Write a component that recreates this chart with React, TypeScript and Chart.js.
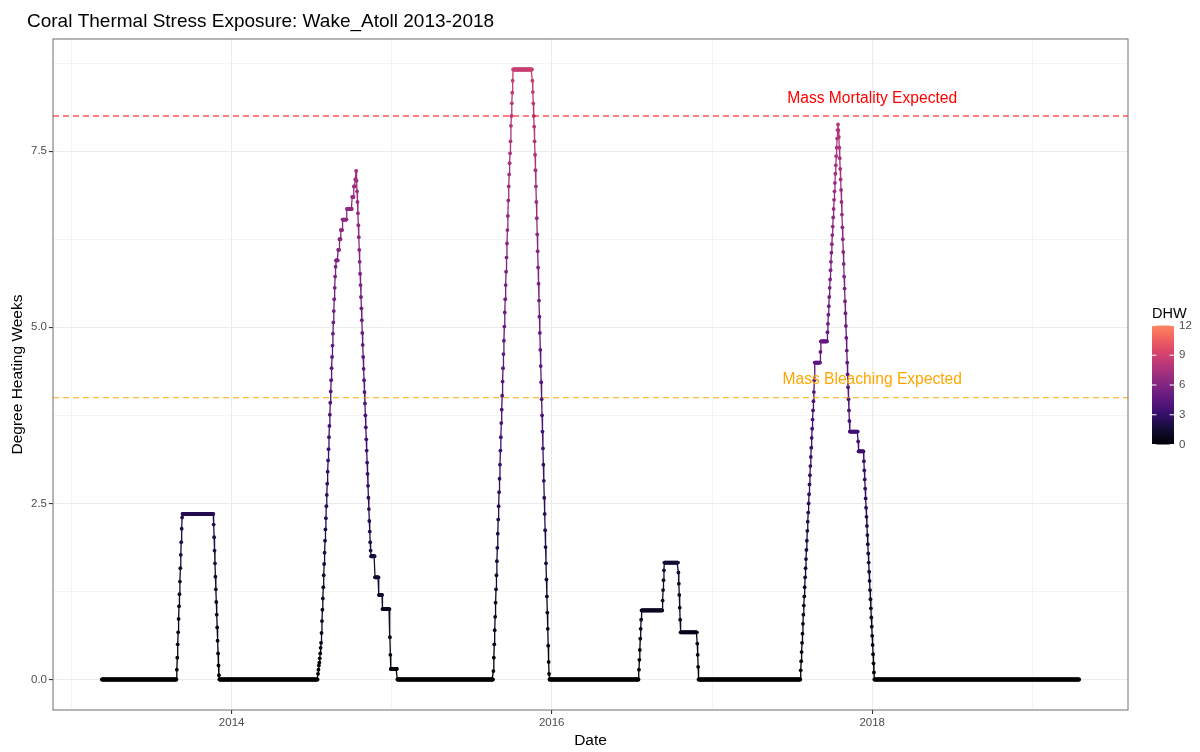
import React, { useEffect, useRef } from "react";
import { Chart, registerables } from "chart.js";

Chart.register(...registerables);

const TITLE = "Coral Thermal Stress Exposure: Wake_Atoll 2013-2018";
const X_TITLE = "Date";
const Y_TITLE = "Degree Heating Weeks";
const LEGEND_TITLE = "DHW";

// Day number (relative to 2014-01-01) of the first daily reading (2013-03-11).
const firstDay = -296;

// Daily DHW readings. A plain number is one day; a [value, days] pair is a run of identical days.
type Run = number | [number, number];

const quietSpring2013: Run[] = [[0, 171]];
const event2013: Run[] = [
  0.14, 0.31, 0.5, 0.67, 0.86, 1.04, 1.21, 1.39, 1.58, 1.77, 1.95, 2.14, 2.3,
  [2.35, 71],
  2.2, 2.02, 1.83, 1.65, 1.46, 1.28, 1.1, 0.92, 0.74, 0.55, 0.37, 0.2, 0.06,
];
const quiet2014: Run[] = [[0, 225]];
const event2014: Run[] = [
  0.08, 0.14, 0.2, 0.24, 0.3, 0.37, 0.45, 0.52,
  0.66, 0.83, 0.99, 1.15, 1.31, 1.48, 1.64, 1.8, 1.97, 2.13, 2.29, 2.46, 2.62, 2.78, 2.95, 3.11,
  3.27, 3.44, 3.6, 3.76, 3.93, 4.09, 4.25, 4.42, 4.58, 4.74, 4.91, 5.07, 5.23, 5.4, 5.56, 5.72, 5.86,
  [5.95, 5], [6.1, 3], [6.25, 3], [6.38, 4], [6.53, 10], [6.68, 12], [6.85, 4], [7.0, 3], [7.1, 2], 7.22,
  7.08, 6.93, 6.78, 6.62, 6.45, 6.28, 6.1, 5.93, 5.76, 5.6, 5.43, 5.27, 5.1, 4.92, 4.75, 4.58, 4.41,
  4.25, 4.08, 3.92, 3.75, 3.58, 3.41, 3.25, 3.08, 2.92, 2.75, 2.58, 2.42, 2.25, 2.1, 1.95, 1.83,
  [1.75, 9], [1.45, 9], [1.2, 8], [1.0, 17], 0.6, 0.35, [0.15, 15],
];
const quiet2015: Run[] = [[0, 219]];
const event2015: Run[] = [
  0.12, 0.31, 0.5, 0.7, 0.89, 1.09, 1.28, 1.48, 1.68, 1.87, 2.07, 2.27, 2.46, 2.66, 2.85,
  3.05, 3.25, 3.44, 3.64, 3.83, 4.03, 4.23, 4.42, 4.62, 4.81, 5.01, 5.21, 5.4, 5.6, 5.79,
  5.99, 6.19, 6.38, 6.58, 6.8, 7.0, 7.17, 7.33, 7.47, 7.64, 7.86, 8.0, 8.18, 8.33, 8.5,
  [8.66, 44],
  8.5, 8.34, 8.18, 8.0, 7.85, 7.64, 7.45, 7.23, 7.0, 6.78, 6.55, 6.32, 6.08, 5.85, 5.62, 5.38,
  5.15, 4.92, 4.68, 4.45, 4.22, 3.98, 3.75, 3.52, 3.28, 3.05, 2.82, 2.58, 2.35, 2.12, 1.88,
  1.65, 1.42, 1.18, 0.95, 0.72, 0.48, 0.25, 0.08,
];
const quiet2016: Run[] = [[0, 204]];
const event2016: Run[] = [
  0.14, 0.28, 0.42, 0.58, 0.72, 0.85, [0.98, 48],
  1.12, 1.27, 1.41, 1.55, [1.66, 32],
  1.52, 1.36, 1.2, 1.02, 0.85, [0.67, 38],
  0.51, 0.35, 0.18,
];
const quiet2017: Run[] = [[0, 233]];
const event2017: Run[] = [
  0.13, 0.26, 0.39, 0.52, 0.65, 0.79, 0.92, 1.05, 1.18, 1.31, 1.45, 1.58, 1.71, 1.84, 1.97, 2.11,
  2.24, 2.37, 2.5, 2.63, 2.77, 2.9, 3.03, 3.16, 3.29, 3.43, 3.56, 3.69, 3.82, 3.95, 4.08,
  4.25, [4.5, 13], 4.65, [4.8, 15],
  4.93, 5.05, 5.18, 5.3, 5.43, 5.56, 5.68, 5.81, 5.93, 6.06, 6.18, 6.31, 6.43, 6.56, 6.68, 6.81,
  6.93, 7.05, 7.18, 7.3, 7.43, 7.55, 7.68, 7.8, 7.88,
  7.8, 7.7, 7.55, 7.4, 7.25, 7.1, 6.95, 6.78, 6.6, 6.42, 6.25, 6.07, 5.9, 5.72, 5.55, 5.37, 5.2,
  5.02, 4.85, 4.67, 4.5, 4.33, 4.15, 3.98, 3.82, 3.67,
  [3.52, 19], 3.38, [3.24, 12],
  3.1, 2.97, 2.84, 2.71, 2.57, 2.44, 2.31, 2.18, 2.05, 1.92, 1.79, 1.66, 1.53, 1.4, 1.27, 1.14,
  1.01, 0.88, 0.75, 0.62, 0.49, 0.36, 0.23, 0.1,
];
const quietAfter2017: Run[] = [[0, 468]];

const record: Run[][] = [
  quietSpring2013, event2013, quiet2014, event2014, quiet2015, event2015,
  quiet2016, event2016, quiet2017, event2017, quietAfter2017,
];

const yearTicks = [2013, 2014, 2015, 2016, 2017, 2018, 2019];
const yearLabels = [2014, 2016, 2018];
const yTicks = [0, 1.25, 2.5, 3.75, 5, 6.25, 7.5, 8.75];
const yLabels = [0, 2.5, 5, 7.5];

const thresholdValues = [8, 4];
const thresholdLabels = ["Mass Mortality Expected", "Mass Bleaching Expected"];
const thresholdColors = ["#ff0000", "#ffa500"];
const thresholdLabelValues = [8.25, 4.25];
const thresholdLabelYear = 2018;

const legendTicks = [0, 3, 6, 9, 12];
const legendMax = 12;

const MAGMA = [
  "#000004", "#140e36", "#3b0f70", "#641a80", "#8c2981", "#b73779",
  "#de4968", "#f7705c", "#fe9f6d", "#fecf92", "#fcfdbf",
];
const MAGMA_END = 0.75;
const FONT = '"Liberation Sans", Arial, Helvetica, sans-serif';

function hexToRgb(h: string) {
  const n = parseInt(h.slice(1), 16);
  return [(n >> 16) & 255, (n >> 8) & 255, n & 255];
}
function magma(t: number) {
  const c = Math.max(0, Math.min(1, t)) * (MAGMA.length - 1);
  const i = Math.min(MAGMA.length - 2, Math.floor(c));
  const f = c - i;
  const a = hexToRgb(MAGMA[i]);
  const b = hexToRgb(MAGMA[i + 1]);
  const m = a.map((v, k) => Math.round(v + (b[k] - v) * f));
  return `rgb(${m[0]},${m[1]},${m[2]})`;
}
const dhwColor = (v: number) => magma((v / legendMax) * MAGMA_END);

function dayOfYearStart(year: number) {
  return Math.round((Date.UTC(year, 0, 1) - Date.UTC(2014, 0, 1)) / 86400000);
}

function buildSeries() {
  const out: { x: number; y: number }[] = [];
  let d = firstDay;
  for (const seg of record) {
    for (const r of seg) {
      if (Array.isArray(r)) {
        for (let k = 0; k < r[1]; k++) out.push({ x: d++, y: r[0] });
      } else {
        out.push({ x: d++, y: r });
      }
    }
  }
  return out;
}

export default function App() {
  const ref = useRef<HTMLCanvasElement | null>(null);

  useEffect(() => {
    if (!ref.current) return;
    const data = buildSeries();
    const xMin0 = data[0].x;
    const xMax0 = data[data.length - 1].x;
    const yMax0 = Math.max(...data.map((p) => p.y));
    const xPad = (xMax0 - xMin0) * 0.05;
    const yPad = yMax0 * 0.05;
    const majorX = new Set(yearLabels.map(dayOfYearStart));
    const majorY = new Set(yLabels);

    const decor = {
      id: "decor",
      afterDatasetsDraw(chart: any) {
        const { ctx, chartArea: a, scales } = chart;
        const xs = scales.x, ys = scales.y;
        ctx.save();
        // threshold lines
        thresholdValues.forEach((v, i) => {
          const y = ys.getPixelForValue(v);
          ctx.strokeStyle = thresholdColors[i];
          ctx.lineWidth = 1.1;
          ctx.setLineDash([6, 4]);
          ctx.beginPath();
          ctx.moveTo(a.left, y);
          ctx.lineTo(a.right, y);
          ctx.stroke();
        });
        ctx.setLineDash([]);
        // threshold labels
        ctx.font = `15.6px ${FONT}`;
        ctx.textAlign = "center";
        ctx.textBaseline = "middle";
        const lx = xs.getPixelForValue(dayOfYearStart(thresholdLabelYear));
        thresholdLabels.forEach((t, i) => {
          ctx.fillStyle = thresholdColors[i];
          ctx.fillText(t, lx, ys.getPixelForValue(thresholdLabelValues[i]));
        });
        // panel border
        ctx.strokeStyle = "#6e6e6e";
        ctx.lineWidth = 1;
        ctx.strokeRect(a.left, a.top, a.right - a.left, a.bottom - a.top);
        ctx.restore();
      },
      afterDraw(chart: any) {
        const { ctx, chartArea: a } = chart;
        ctx.save();
        // title
        ctx.fillStyle = "#000";
        ctx.font = `19px ${FONT}`;
        ctx.textAlign = "left";
        ctx.textBaseline = "alphabetic";
        ctx.fillText(TITLE, 27, 27);
        // colour bar legend
        const mid = (a.top + a.bottom) / 2;
        const barX = a.right + 24;
        const barW = 22;
        const barTop = mid - 49;
        const barBot = mid + 70;
        const g = ctx.createLinearGradient(0, barBot, 0, barTop);
        for (let k = 0; k <= 20; k++) g.addColorStop(k / 20, magma((k / 20) * MAGMA_END));
        ctx.fillStyle = g;
        ctx.fillRect(barX, barTop, barW, barBot - barTop);
        ctx.fillStyle = "#000";
        ctx.font = `14.5px ${FONT}`;
        ctx.fillText(LEGEND_TITLE, barX, barTop - 8);
        ctx.font = `11.5px ${FONT}`;
        ctx.textBaseline = "middle";
        legendTicks.forEach((t) => {
          const y = barBot - (t / legendMax) * (barBot - barTop);
          ctx.strokeStyle = "#ffffff";
          ctx.lineWidth = 1;
          ctx.beginPath();
          ctx.moveTo(barX, y);
          ctx.lineTo(barX + barW / 5, y);
          ctx.moveTo(barX + barW, y);
          ctx.lineTo(barX + barW - barW / 5, y);
          ctx.stroke();
          ctx.fillStyle = "#4d4d4d";
          ctx.fillText(String(t), barX + barW + 5, y);
        });
        ctx.restore();
      },
    };

    const chart = new Chart(ref.current, {
      type: "line",
      data: {
        datasets: [
          {
            data,
            showLine: true,
            borderWidth: 1.3,
            pointRadius: 1.9,
            pointBorderWidth: 0,
            pointBackgroundColor: (c: any) => dhwColor(c.raw ? c.raw.y : 0),
            segment: { borderColor: (c: any) => dhwColor(c.p0.parsed.y) },
            borderColor: "#000",
            tension: 0,
          },
        ],
      },
      options: {
        responsive: false,
        animation: false,
        devicePixelRatio: 1,
        normalized: true,
        layout: { padding: { top: 39, right: 72, left: 0, bottom: 0 } },
        plugins: {
          legend: { display: false },
          tooltip: { enabled: false },
          title: { display: false },
        },
        scales: {
          x: {
            type: "linear",
            min: xMin0 - xPad,
            max: xMax0 + xPad,
            afterBuildTicks: (s: any) => {
              s.ticks = yearTicks.map((y) => ({ value: dayOfYearStart(y) }));
            },
            afterFit: (s: any) => {
              s.height = 42;
            },
            ticks: {
              autoSkip: false,
              maxRotation: 0,
              padding: 2,
              color: "#4d4d4d",
              font: { family: FONT, size: 11.5 },
              callback: (v: any) => {
                const y = yearTicks.find((yr) => dayOfYearStart(yr) === v);
                return y !== undefined && yearLabels.includes(y) ? String(y) : "";
              },
            },
            grid: {
              color: "#ebebeb",
              lineWidth: (c: any) => (c.tick && majorX.has(c.tick.value) ? 1.1 : 0.55),
              tickColor: (c: any) => (c.tick && majorX.has(c.tick.value) ? "#333333" : "rgba(0,0,0,0)"),
              tickLength: 4,
              drawTicks: true,
            },
            border: { display: false },
            title: {
              display: true,
              text: X_TITLE,
              color: "#000",
              font: { family: FONT, size: 15.5 },
              padding: { top: 0, bottom: 2 },
            },
          },
          y: {
            type: "linear",
            min: -yPad,
            max: yMax0 + yPad,
            afterBuildTicks: (s: any) => {
              s.ticks = yTicks.map((v) => ({ value: v }));
            },
            afterFit: (s: any) => {
              s.width = 53;
            },
            ticks: {
              autoSkip: false,
              padding: 2,
              color: "#4d4d4d",
              font: { family: FONT, size: 11.5 },
              callback: (v: any) => (majorY.has(v) ? Number(v).toFixed(1) : ""),
            },
            grid: {
              color: "#ebebeb",
              lineWidth: (c: any) => (c.tick && majorY.has(c.tick.value) ? 1.1 : 0.55),
              tickColor: (c: any) => (c.tick && majorY.has(c.tick.value) ? "#333333" : "rgba(0,0,0,0)"),
              tickLength: 4,
              drawTicks: true,
            },
            border: { display: false },
            title: {
              display: true,
              text: Y_TITLE,
              color: "#000",
              font: { family: FONT, size: 15.5 },
              padding: { top: 8, bottom: 0 },
            },
          },
        },
      },
      plugins: [decor],
    } as any);
    return () => chart.destroy();
  }, []);

  return (
    <div style={{ position: "absolute", left: 0, top: 0, width: 1200, height: 752, background: "#fff" }}>
      <canvas ref={ref} width={1200} height={752} style={{ display: "block", width: 1200, height: 752 }} />
    </div>
  );
}
